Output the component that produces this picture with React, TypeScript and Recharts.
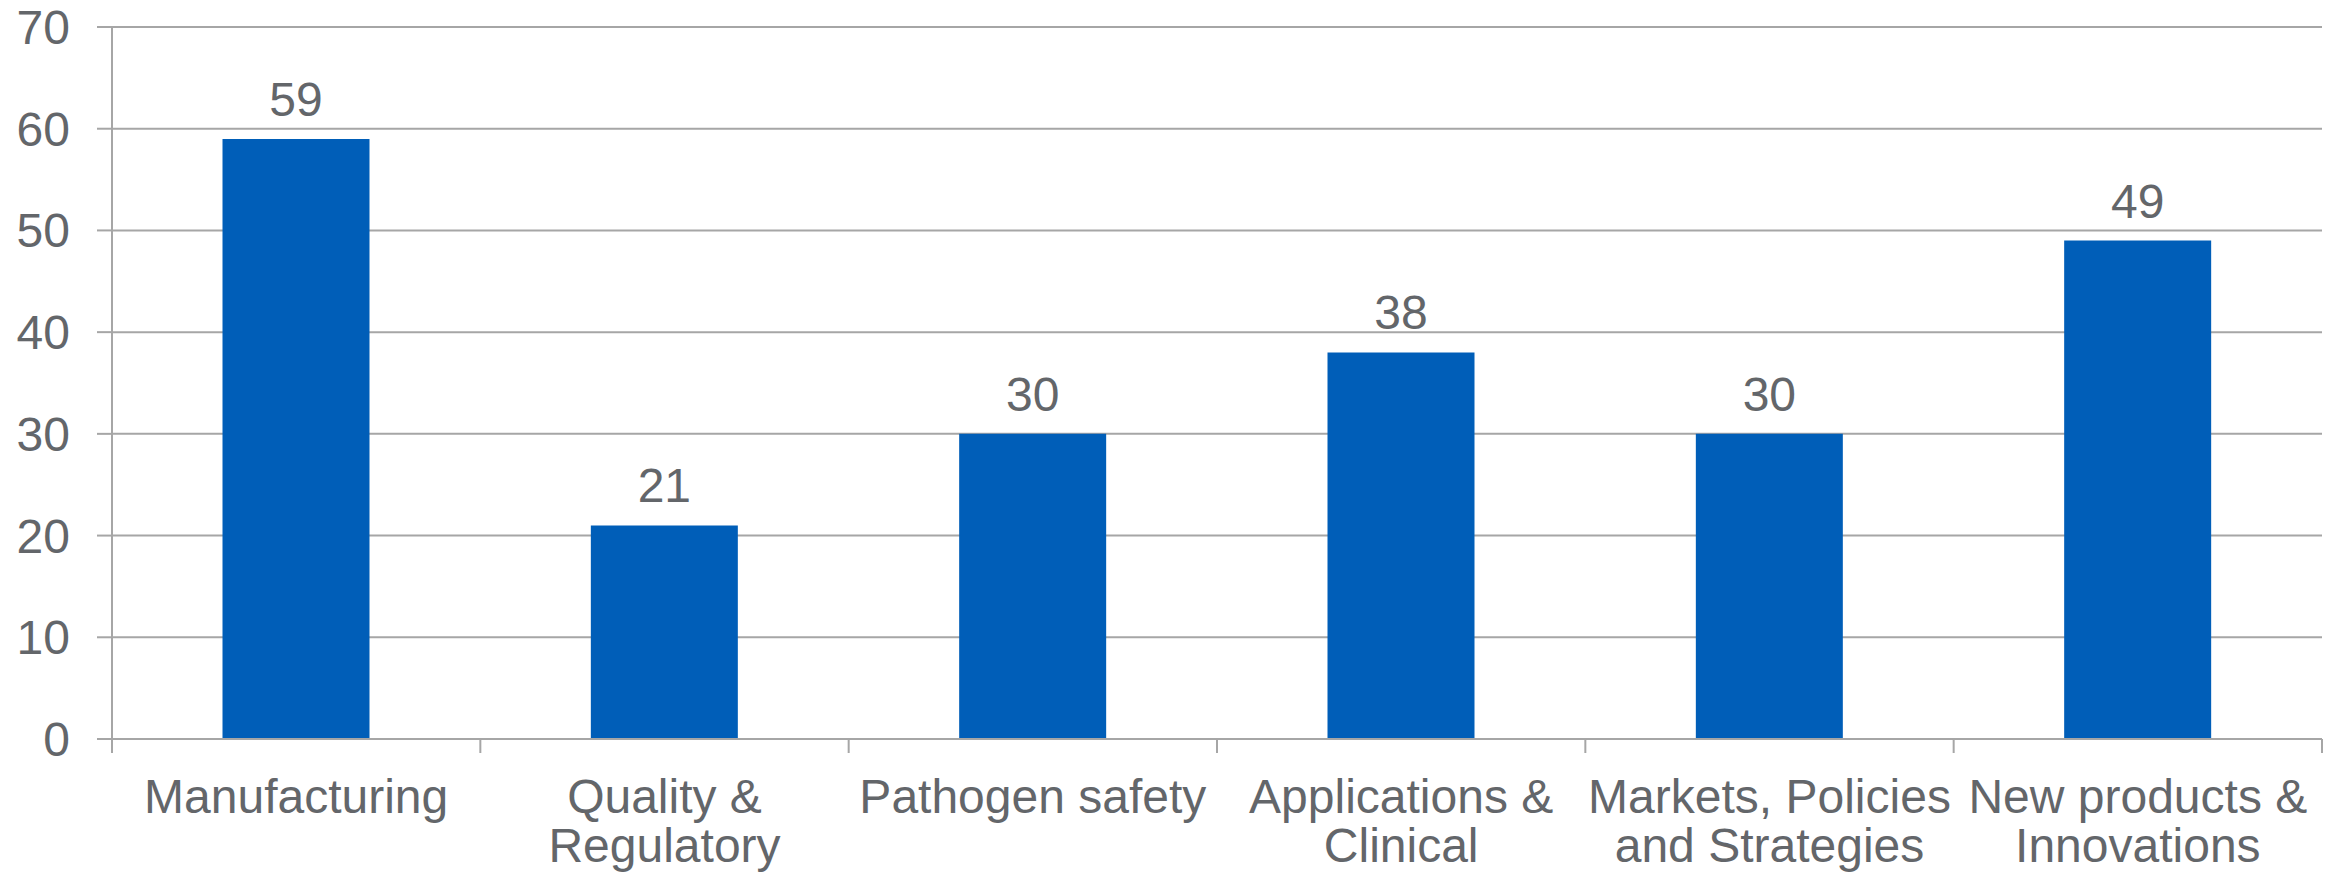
import React from 'react';
import { BarChart, Bar, XAxis, YAxis, CartesianGrid, LabelList } from 'recharts';

const categories = [
  'Manufacturing',
  'Quality &\nRegulatory',
  'Pathogen safety',
  'Applications &\nClinical',
  'Markets, Policies\nand Strategies',
  'New products &\nInnovations',
];
const counts = [59, 21, 30, 38, 30, 49];
const yTicks = [0, 10, 20, 30, 40, 50, 60, 70];

const data = categories.map((name, i) => ({ name, value: counts[i] }));

const TEXT = '#63666A';
const GRID = '#A6A6A6';
const BAR = '#005EB8';
const FONT = '"Liberation Sans", Arial, sans-serif';

const W = 2338;
const H = 879;
const MARGIN = { top: 27, right: 16, left: 0, bottom: 0 };
const Y_WIDTH = 112;
const X_TICK_SIZE = 14;
const X_TICK_MARGIN = 8;

function CategoryTick(props: any) {
  const { x, y, payload, index, visibleTicksCount } = props;
  const plotWidth = W - MARGIN.left - MARGIN.right - Y_WIDTH;
  const axisWidth = typeof props.width === 'number' && props.width > 0 ? props.width : plotWidth;
  const half = axisWidth / visibleTicksCount / 2;
  const axisY = y - X_TICK_SIZE - X_TICK_MARGIN;
  const lines = String(payload.value).split('\n');
  return (
    <g>
      <line x1={x - half} x2={x - half} y1={axisY} y2={axisY + X_TICK_SIZE} stroke={GRID} strokeWidth={2} />
      {index === visibleTicksCount - 1 && (
        <line x1={x + half} x2={x + half} y1={axisY} y2={axisY + X_TICK_SIZE} stroke={GRID} strokeWidth={2} />
      )}
      <text x={x} y={y} textAnchor="middle" fill={TEXT} fontSize={48} fontFamily={FONT}>
        {lines.map((l, i) => (
          <tspan key={i} x={x} dy={i === 0 ? 52 : 49}>
            {l}
          </tspan>
        ))}
      </text>
    </g>
  );
}

export default function App() {
  return (
    <div style={{ position: 'absolute', left: 0, top: 0, background: '#fff' }}>
      <BarChart
        width={W}
        height={H}
        data={data}
        margin={MARGIN}
        barCategoryGap="30%"
        style={{ fontFamily: FONT }}
      >
        <CartesianGrid vertical={false} stroke={GRID} strokeWidth={2} />
        <XAxis
          dataKey="name"
          height={H - MARGIN.top - 712}
          interval={0}
          tickLine={false}
          tickSize={X_TICK_SIZE}
          tickMargin={X_TICK_MARGIN}
          axisLine={{ stroke: GRID, strokeWidth: 2 }}
          tick={<CategoryTick />}
        />
        <YAxis
          width={Y_WIDTH}
          domain={[0, 70]}
          ticks={yTicks}
          interval={0}
          tickSize={15}
          tickMargin={27}
          axisLine={{ stroke: GRID, strokeWidth: 2 }}
          tickLine={{ stroke: GRID, strokeWidth: 2 }}
          tick={{ fill: TEXT, fontSize: 48, fontFamily: FONT }}
        />
        <Bar dataKey="value" fill={BAR} isAnimationActive={false}>
          <LabelList dataKey="value" position="top" offset={23} fill={TEXT} fontSize={48} fontFamily={FONT} />
        </Bar>
      </BarChart>
    </div>
  );
}
